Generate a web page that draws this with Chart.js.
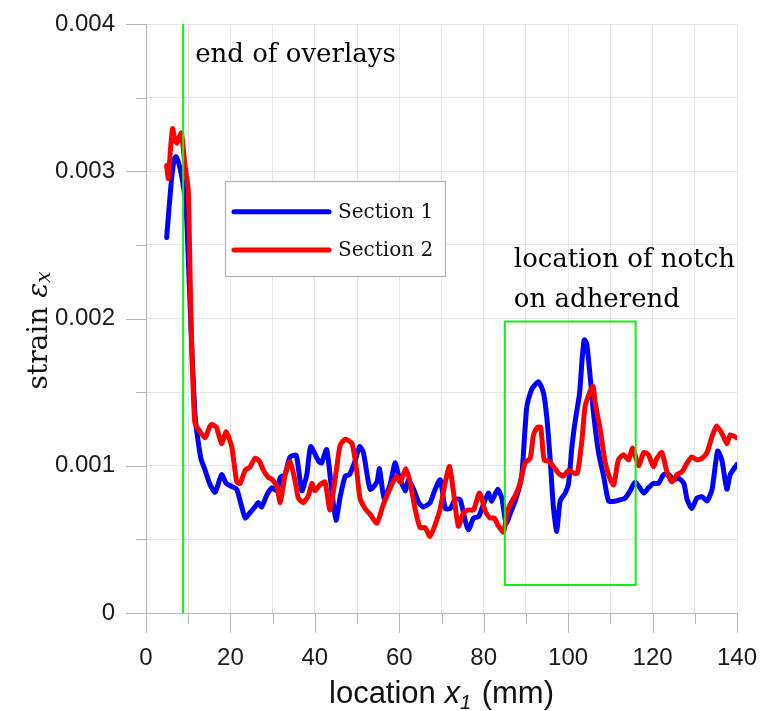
<!DOCTYPE html>
<html>
<head>
<meta charset="utf-8">
<script src="https://cdn.jsdelivr.net/npm/chart.js@4/dist/chart.umd.min.js"></script>
<style>
  body { margin: 0; background: #fff; }
  #wrap { width: 760px; height: 711px; }
</style>
</head>
<body>
<div id="wrap"><canvas id="c" width="760" height="711"></canvas></div>
<script>
// Section 1 (blue): location x1 (mm) / strain
const sec1X = [
  4.9, 5.9, 6.6, 7.1, 7.7, 8.5, 9.5, 10.3, 11.0, 11.6,
  12.0, 13.0, 14.0, 15.2, 16.4, 17.9, 19.0, 20.3, 21.5, 22.5,
  23.5, 24.6, 25.8, 26.6, 27.4, 28.6, 29.8, 31.0, 31.8, 32.9,
  34.1, 35.6, 36.9, 38.1, 39.0, 40.9, 41.6, 42.8, 44.0, 45.0,
  46.0, 47.2, 48.2, 49.5, 50.6, 51.5, 53.1, 54.7, 55.3, 56.4,
  57.8, 59.0, 59.8, 61.4, 62.2, 63.4, 64.6, 65.7, 67.3, 68.5,
  69.7, 70.9, 72.1, 73.2, 74.4, 75.6, 76.4, 77.6, 78.8, 79.9,
  81.1, 81.9, 83.3, 84.3, 85.3, 86.5, 87.8, 89.0, 90.2, 91.4,
  93.0, 94.2, 95.0, 95.8, 96.5, 97.3, 98.1, 99.3, 100.1, 100.9,
  101.7, 102.7, 103.3, 103.8, 104.4, 105.2, 106.0, 107.2, 108.4, 109.6,
  111.2, 112.4, 113.5, 114.7, 115.9, 117.9, 119.0, 120.2, 121.4, 122.6,
  123.8, 125.0, 126.2, 127.4, 128.2, 129.3, 130.5, 131.7, 132.9, 134.1,
  135.4, 136.4, 137.6, 138.4, 140.0
];
const sec1Y = [
  0.00255, 0.00290, 0.00307, 0.00310, 0.00306, 0.00296, 0.00275, 0.00220, 0.00170, 0.00135,
  0.00124, 0.00105, 0.00097, 0.00087, 0.00082, 0.00094, 0.00088, 0.00086, 0.00084, 0.00074,
  0.000645, 0.00068, 0.00072, 0.00075, 0.00072, 0.00080, 0.00085, 0.00083, 0.00092, 0.00094,
  0.00106, 0.00107, 0.00083, 0.00094, 0.00113, 0.00103, 0.00102, 0.00111, 0.00083, 0.00063,
  0.00079, 0.00093, 0.00094, 0.00103, 0.00113, 0.00109, 0.00084, 0.00089, 0.00098, 0.00078,
  0.00087, 0.00102, 0.00094, 0.00083, 0.000905, 0.00084, 0.00075, 0.00072, 0.00075, 0.00084,
  0.000905, 0.00071, 0.00071, 0.00077, 0.00077, 0.00063, 0.000565, 0.000645, 0.000655, 0.000735,
  0.000815, 0.00076, 0.00084, 0.00078, 0.00061, 0.00069, 0.00079, 0.00093, 0.00140, 0.00152,
  0.00157, 0.00149, 0.00131, 0.00102, 0.00072, 0.000555, 0.00076, 0.000815, 0.00088, 0.00113,
  0.00131, 0.00149, 0.00172, 0.001855, 0.00183, 0.00161, 0.00136, 0.00109, 0.00093, 0.00076,
  0.00076, 0.00077, 0.00078, 0.00083, 0.00089, 0.000815, 0.00085, 0.00088, 0.00088, 0.00094,
  0.00094, 0.000905, 0.000915, 0.00088, 0.00077, 0.00071, 0.00078, 0.00079, 0.00076, 0.00084,
  0.00110, 0.00104, 0.00084, 0.00094, 0.00101
];

// Section 2 (red)
const sec2X = [
  4.9, 5.3, 5.8, 6.3, 6.8, 7.3, 7.8, 8.4, 9.2, 10.0,
  10.4, 10.8, 11.2, 11.6, 12.6, 14.0, 15.0, 15.6, 16.7, 17.9,
  19.0, 20.3, 21.5, 22.3, 23.5, 24.6, 25.8, 26.9, 27.8, 29.0,
  29.8, 31.0, 31.8, 32.9, 34.1, 35.3, 36.1, 37.3, 38.5, 39.3,
  40.0, 41.2, 42.4, 43.6, 45.0, 46.0, 47.2, 48.8, 49.9, 50.7,
  51.9, 53.1, 54.7, 56.2, 58.2, 59.4, 60.2, 61.6, 62.6, 63.8,
  64.9, 66.1, 67.3, 68.5, 69.7, 70.9, 71.9, 72.8, 74.0, 75.2,
  76.4, 77.6, 79.0, 80.4, 81.5, 82.5, 83.5, 84.7, 85.5, 86.5,
  87.5, 88.6, 89.8, 91.0, 91.8, 92.7, 93.5, 94.3, 95.4, 96.5,
  97.7, 98.9, 100.1, 101.3, 102.2, 103.3, 104.0, 105.2, 105.9, 106.4,
  107.6, 108.8, 110.0, 110.8, 111.9, 113.1, 114.3, 115.3, 116.7, 117.9,
  119.0, 120.2, 121.0, 122.2, 123.4, 124.6, 125.8, 127.0, 128.2, 129.3,
  130.5, 131.7, 132.9, 134.1, 135.2, 136.4, 137.6, 138.4, 140.0
];
const sec2Y = [
  0.00304, 0.00295, 0.00315, 0.00329, 0.00322, 0.00319, 0.00323, 0.00326, 0.00305, 0.00287,
  0.00235, 0.00183, 0.00150, 0.00129, 0.00124, 0.00119, 0.00126, 0.00128, 0.00126, 0.00115,
  0.00123, 0.00113, 0.00089, 0.00088, 0.00097, 0.00099, 0.00105, 0.00103, 0.00097, 0.00092,
  0.00091, 0.00086, 0.00075, 0.00093, 0.00103, 0.00090, 0.00078, 0.00075, 0.00080, 0.00088,
  0.00083, 0.00087, 0.00089, 0.00070, 0.00095, 0.00114, 0.00118, 0.00115, 0.00097, 0.00078,
  0.00071, 0.00067, 0.00061, 0.000735, 0.00087, 0.00093, 0.00089, 0.00098, 0.00088, 0.00070,
  0.00058, 0.00058, 0.00052, 0.00060, 0.00071, 0.00089, 0.000995, 0.00083, 0.00059, 0.00068,
  0.00070, 0.00070, 0.000815, 0.00069, 0.000645, 0.000645, 0.00059, 0.00055, 0.00068, 0.00075,
  0.00080, 0.00088, 0.00102, 0.00105, 0.00121, 0.00126, 0.00126, 0.00104, 0.00103, 0.000995,
  0.00095, 0.00093, 0.00097, 0.00095, 0.00095, 0.00118, 0.00140, 0.001505, 0.00154, 0.00143,
  0.001245, 0.00102, 0.000905, 0.00087, 0.00104, 0.001075, 0.00104, 0.00112, 0.00100, 0.00109,
  0.001075, 0.000995, 0.00105, 0.00109, 0.00096, 0.00089, 0.00094, 0.00096, 0.00102, 0.00106,
  0.00104, 0.00105, 0.00109, 0.00120, 0.00127, 0.00122, 0.00115, 0.00121, 0.00119
];

const seriesNames = ["Section 1", "Section 2"];
const xTickLabels = ["0", "20", "40", "60", "80", "100", "120", "140"];
const yTickLabels = ["0", "0.001", "0.002", "0.003", "0.004"];

// annotations (data units)
const overlayEndX = 8.8;
const notchX = [85, 116];
const notchStrain = [0.00019, 0.00198];

const toPts = (xs, ys) => xs.map((x, i) => ({ x: x, y: ys[i] }));

const overlayLine = [{ x: overlayEndX, y: 0 }, { x: overlayEndX, y: 0.004 }];
const notchRect = [
  { x: notchX[0], y: notchStrain[0] }, { x: notchX[0], y: notchStrain[1] },
  { x: notchX[1], y: notchStrain[1] }, { x: notchX[1], y: notchStrain[0] },
  { x: notchX[0], y: notchStrain[0] }
];

const SANS = "'Liberation Sans', Arial, sans-serif";
const SERIF = "'DejaVu Serif', serif";

const decor = {
  id: "decor",
  afterDraw(chart) {
    const ctx = chart.ctx;
    const a = chart.chartArea;
    const xs = chart.scales.x, ys = chart.scales.y;
    ctx.save();

    // tick marks (long at labelled values, short between)
    ctx.strokeStyle = "#b4b4b4";
    ctx.lineWidth = 1;
    ctx.beginPath();
    xs.ticks.forEach(t => {
      const p = Math.round(xs.getPixelForValue(t.value)) + 0.5;
      const len = t.value % 20 === 0 ? 20 : 11;
      ctx.moveTo(p, a.bottom); ctx.lineTo(p, a.bottom + len);
    });
    ys.ticks.forEach(t => {
      const p = Math.round(ys.getPixelForValue(t.value)) + 0.5;
      const major = Math.round(t.value * 2000) % 2 === 0;
      ctx.moveTo(a.left, p); ctx.lineTo(a.left - (major ? 20 : 10), p);
    });
    ctx.stroke();

    ctx.fillStyle = "#111";
    ctx.textBaseline = "alphabetic";

    // x axis title: location x1 (mm)
    const cx = (a.left + a.right) / 2;
    const by = a.bottom + 90;
    const f1 = "31px " + SANS, f2 = "italic 31px " + SANS, f3 = "italic 20px " + SANS;
    ctx.font = f1; const w1 = ctx.measureText("location ").width;
    ctx.font = f2; const w2 = ctx.measureText("x").width;
    ctx.font = f3; const w3 = ctx.measureText("1").width + 2;
    ctx.font = f1; const w4 = ctx.measureText(" (mm)").width;
    let x0 = cx - (w1 + w2 + w3 + w4) / 2;
    ctx.textAlign = "left";
    ctx.font = f1; ctx.fillText("location ", x0, by); x0 += w1;
    ctx.font = f2; ctx.fillText("x", x0, by); x0 += w2;
    ctx.font = f3; ctx.fillText("1", x0, by + 6); x0 += w3;
    ctx.font = f1; ctx.fillText(" (mm)", x0, by);

    // y axis title: strain εx
    ctx.save();
    ctx.translate(a.left - 99, (a.top + a.bottom) / 2 + 12);
    ctx.rotate(-Math.PI / 2);
    const g1 = "28px " + SERIF, g2 = "italic 28px " + SERIF, g3 = "italic 20px " + SERIF;
    ctx.font = g1; const v1 = ctx.measureText("strain ").width;
    ctx.font = g2; const v2 = ctx.measureText("\u03b5").width;
    ctx.font = g3; const v3 = ctx.measureText("x").width;
    let y0 = -(v1 + v2 + v3) / 2;
    ctx.font = g1; ctx.fillText("strain ", y0, 0); y0 += v1;
    ctx.font = g2; ctx.fillText("\u03b5", y0, 0); y0 += v2;
    ctx.font = g3; ctx.fillText("x", y0, 3);
    ctx.restore();

    // annotation texts
    ctx.font = "26px " + SERIF;
    ctx.fillStyle = "#000";
    ctx.fillText("end of overlays", xs.getPixelForValue(overlayEndX) + 12, a.top + 38);
    const nx = xs.getPixelForValue(notchX[0]) + 9;
    const ny = ys.getPixelForValue(notchStrain[1]);
    ctx.fillText("location of notch", nx, ny - 54);
    ctx.fillText("on adherend", nx, ny - 14);

    // legend box
    const lx = a.left + 79, ly = a.top + 157, lw = 220, lh = 95;
    ctx.fillStyle = "#fff";
    ctx.fillRect(lx, ly, lw, lh);
    ctx.strokeStyle = "#b0b0b0";
    ctx.lineWidth = 1.2;
    ctx.strokeRect(lx + 0.5, ly + 0.5, lw, lh);
    const rows = [30.7, 69];
    ctx.font = "20px " + SERIF;
    ctx.textBaseline = "middle";
    rows.forEach((off, i) => {
      const ds = chart.data.datasets[i];
      ctx.strokeStyle = ds.borderColor;
      ctx.lineWidth = 5;
      ctx.lineCap = "round";
      ctx.beginPath();
      ctx.moveTo(lx + 9, ly + off); ctx.lineTo(lx + 104, ly + off);
      ctx.stroke();
      ctx.fillStyle = "#111";
      ctx.fillText(ds.label, lx + 113, ly + off + 1);
    });
    ctx.restore();
  }
};

new Chart(document.getElementById("c"), {
  type: "scatter",
  data: {
    datasets: [
      {
        label: seriesNames[0], data: toPts(sec1X, sec1Y),
        borderColor: "#0000ff", order: 3
      },
      {
        label: seriesNames[1], data: toPts(sec2X, sec2Y),
        borderColor: "#ff0000", order: 2
      },
      {
        label: "overlay end", data: overlayLine,
        borderColor: "#11f011", borderWidth: 2, order: 1, tension: 0
      },
      {
        label: "notch", data: notchRect,
        borderColor: "#11f011", borderWidth: 2, order: 1, tension: 0,
        borderJoinStyle: "miter"
      }
    ]
  },
  options: {
    responsive: false,
    animation: false,
    devicePixelRatio: 1,
    layout: { padding: { top: 24, right: 23, left: 0, bottom: 0 } },
    elements: {
      point: { radius: 0, hoverRadius: 0 },
      line: { borderWidth: 5, tension: 0.2, borderJoinStyle: "round", borderCapStyle: "round", fill: false }
    },
    datasets: { scatter: { showLine: true } },
    plugins: { legend: { display: false }, tooltip: { enabled: false } },
    scales: {
      x: {
        type: "linear", min: 0, max: 140,
        afterFit: s => { s.height = 98; s.paddingLeft = 0; s.paddingRight = 0; },
        grid: { color: "#e6e6e6", drawTicks: false },
        border: { color: "#b4b4b4" },
        ticks: {
          stepSize: 10, padding: 31, color: "#1a1a1a",
          font: { family: SANS, size: 24 },
          autoSkip: false, maxRotation: 0,
          callback: v => (v % 20 === 0 ? xTickLabels[v / 20] : "")
        }
      },
      y: {
        type: "linear", min: 0, max: 0.004,
        afterFit: s => { s.width = 146; s.paddingTop = 0; s.paddingBottom = 0; },
        grid: { color: "#e6e6e6", drawTicks: false },
        border: { color: "#b4b4b4" },
        ticks: {
          stepSize: 0.0005, padding: 31, color: "#1a1a1a",
          font: { family: SANS, size: 24 },
          autoSkip: false,
          callback: v => {
            const k = Math.round(v * 2000);
            return k % 2 === 0 ? yTickLabels[k / 2] : "";
          }
        }
      }
    }
  },
  plugins: [decor]
});
</script>
</body>
</html>
